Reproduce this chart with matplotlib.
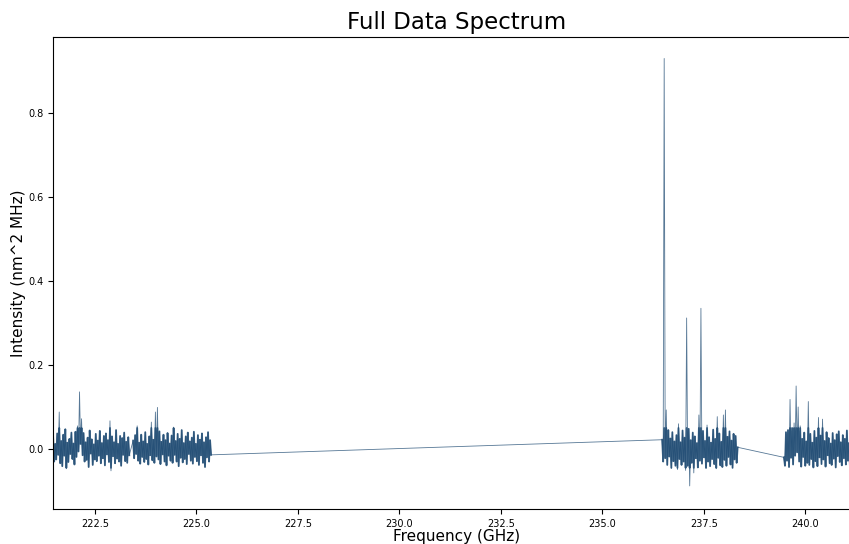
import numpy as np
import matplotlib
matplotlib.use("Agg")
from matplotlib import pyplot as plt

# frequency windows (GHz) of the four observed bands
band_a_range = (221.47, 223.345)
band_b_range = (223.44, 225.36)
band_c_range = (236.47, 238.33)
band_d_range = (239.47, 241.37)

# intensity samples (alternating highs and lows of the noise)
band_a = [0.028, -0.030, 0.012, -0.025, 0.037, -0.014, 0.088, -0.034, 0.019, -0.041,
          0.034, -0.016, 0.047, -0.047, 0.015, -0.031, 0.024, -0.012, 0.039, -0.024,
          0.013, -0.037, 0.041, -0.019, 0.055, -0.006, 0.136, 0.012, 0.072, -0.015,
          0.038, -0.030, 0.016, -0.026, 0.027, -0.043, 0.044, -0.011, 0.023, -0.038,
          0.011, -0.025, 0.036, -0.029, 0.020, -0.016, 0.043, -0.034, 0.014, -0.022,
          0.031, -0.039, 0.037, -0.013, 0.021, -0.031, 0.067, -0.052, 0.030, -0.017,
          0.016, -0.034, 0.045, -0.023, 0.012, -0.030, 0.031, -0.040, 0.026, -0.014,
          0.039, -0.029, 0.017, -0.033, 0.028, -0.015]

band_b = [0.020, -0.022, 0.033, -0.012, 0.055, -0.028, 0.015, -0.035, 0.034, -0.019,
          0.018, -0.031, 0.040, -0.024, 0.012, -0.037, 0.030, -0.015, 0.064, -0.027,
          0.022, -0.033, 0.088, -0.018, 0.099, -0.025, 0.042, -0.036, 0.017, -0.013,
          0.034, -0.030, 0.021, -0.039, 0.038, -0.016, 0.013, -0.028, 0.032, -0.033,
          0.052, -0.014, 0.019, -0.030, 0.036, -0.041, 0.024, -0.021, 0.045, -0.032,
          0.014, -0.024, 0.030, -0.036, 0.039, -0.012, 0.018, -0.028, 0.027, -0.035,
          0.041, -0.019, 0.012, -0.029, 0.033, -0.038, 0.022, -0.015, 0.037, -0.033,
          0.016, -0.043, 0.028, -0.020, 0.040, -0.030, 0.021, -0.014]

band_c = [0.022, -0.030, 0.930, -0.022, 0.093, -0.038, 0.045, -0.018, 0.025, -0.046,
          0.040, -0.029, 0.018, -0.040, 0.033, -0.049, 0.060, -0.024, 0.016, -0.038,
          0.044, -0.030, 0.027, -0.051, 0.312, -0.040, 0.048, -0.088, 0.021, -0.033,
          0.039, -0.057, 0.030, -0.022, 0.014, -0.044, 0.081, -0.028, 0.335, -0.035,
          0.043, -0.020, 0.019, -0.046, 0.057, -0.030, 0.028, -0.041, 0.015, -0.024,
          0.046, -0.036, 0.024, -0.047, 0.077, -0.021, 0.037, -0.039, 0.017, -0.043,
          0.081, -0.026, 0.093, -0.040, 0.029, -0.019, 0.042, -0.037, 0.020, -0.045,
          0.036, -0.025, 0.031, -0.033, 0.004]

band_d = [-0.020, -0.040, 0.040, -0.028, 0.045, -0.043, 0.118, -0.021, 0.050, -0.037,
          0.062, -0.016, 0.150, -0.008, 0.100, -0.030, 0.055, -0.042, 0.024, -0.019,
          0.039, -0.040, 0.018, -0.033, 0.113, -0.038, 0.036, -0.024, 0.015, -0.044,
          0.043, -0.029, 0.027, -0.041, 0.075, -0.020, 0.032, -0.036, 0.071, -0.025,
          0.019, -0.042, 0.040, -0.015, 0.026, -0.034, 0.013, -0.038, 0.038, -0.023,
          0.021, -0.044, 0.035, -0.017, 0.042, -0.031, 0.016, -0.039, 0.033, -0.022,
          0.024, -0.037, 0.044, -0.028, 0.014, -0.041, 0.036, -0.019, 0.027, -0.034,
          0.041, -0.025, 0.018, -0.040, 0.032, -0.030, 0.030]

bands = [(band_a_range, band_a), (band_b_range, band_b),
         (band_c_range, band_c), (band_d_range, band_d)]

freq = []
intensity = []
for (f0, f1), vals in bands:
    freq.append(np.linspace(f0, f1, len(vals)))
    intensity.append(np.array(vals))

line_color = '#1f4b73'

fig = plt.figure(figsize=(8.49, 5.44), dpi=100)
ax = fig.add_axes([0.0624, 0.0643, 0.9517, 0.8676])
# thin trace over the whole spectrum (spikes and the joins between bands)
ax.plot(np.concatenate(freq), np.concatenate(intensity), color=line_color,
        linewidth=0.6, alpha=0.75)
# the dense noise floor inside each band renders as a solid block
for f, v in zip(freq, intensity):
    ax.plot(f, np.clip(v, -0.045, 0.05), color=line_color, linewidth=1.3, alpha=0.85)

ax.set_xlim(221.466, 241.367)
ax.set_ylim(-0.143, 0.981)
ax.set_xticks([222.5, 225.0, 227.5, 230.0, 232.5, 235.0, 237.5, 240.0])
ax.set_yticks([0.0, 0.2, 0.4, 0.6, 0.8])
ax.tick_params(labelsize=7)
ax.set_title('Full Data Spectrum', fontsize=16.5)
ax.set_xlabel('Frequency (GHz)', fontsize=11, labelpad=0)
ax.set_ylabel('Intensity (nm^2 MHz)', fontsize=11, labelpad=1)

fig.savefig('out.png', dpi=100)
